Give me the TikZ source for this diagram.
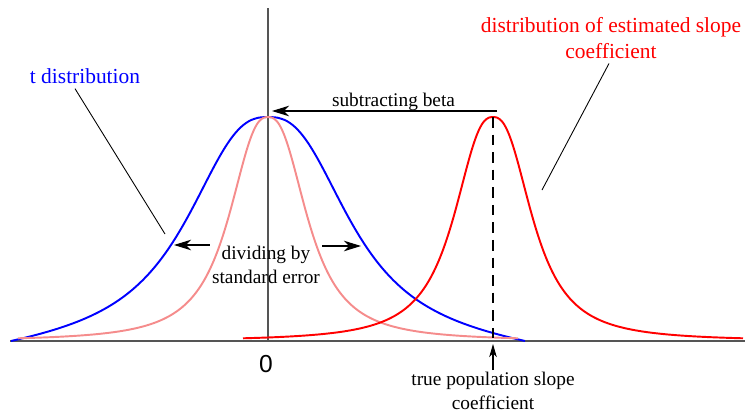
\documentclass[tikz,border=0pt]{standalone}
\usepackage{fontspec}
\setmainfont{Liberation Serif}
\newfontfamily\labelfont{Liberation Serif}
\newfontfamily\zerofont{Liberation Sans}
\usetikzlibrary{arrows.meta, calc}
\definecolor{tGrey}{HTML}{555555}
\definecolor{tPink}{HTML}{F58C8C}

\begin{document}
\begin{tikzpicture}[x=0.02cm, y=-0.02cm,
  >={Stealth[length=3.4mm, width=2.1mm, inset=1mm]},
  curve/.style={line width=1.1pt},
  lbl/.style={font=\labelfont\fontsize{11}{13.5}\selectfont, inner sep=1pt, align=center},
  big/.style={font=\labelfont\fontsize{12.2}{14.5}\selectfont, inner sep=1pt, align=center},
  leader/.style={black, line width=0.5pt}]
\useasboundingbox (0,0) rectangle (748,413);
% ---- axes
\draw[tGrey, line width=0.6pt] (10,341) -- (745,341);
\draw[tGrey, line width=0.6pt] (268,8) -- (268,341);
% ---- t distribution
\draw[blue, curve] plot[domain=-257:257, samples=200, smooth]
  ({268+\x}, {341-224*(1/(1+exp(2.6*ln(abs(\x)/88))) - 0.058*(\x/257)^2)});
% ---- estimate shifted to zero, and the estimate itself
\draw[tPink, curve] plot[domain=-250:250, samples=200, smooth]
  ({268+\x}, {341-224/(1+exp(2.5*ln(abs(\x)/43)))});
\draw[red, curve] plot[domain=-250:250, samples=200, smooth]
  ({493+\x}, {341-224/(1+exp(2.5*ln(abs(\x)/43)))});
\coordinate (peak) at (493,117);
\coordinate (beta) at (493,341);
\draw[dash pattern=on 6pt off 4pt, line width=0.6pt] (peak) -- (beta);
% ---- labels
\node[inner sep=1pt] (zero) at (266,364) {\zerofont\fontsize{14}{16}\selectfont 0};
\node[big, text=blue] (tlab) at (85,76) {t distribution};
\node[big, text=red] (rlab) at (611,38) {distribution of estimated slope\\coefficient};
\node[lbl] (div) at (266,265) {dividing by\\standard error};
\node[lbl] (truelab) at (493,391) {true population slope\\coefficient};
% ---- leaders and arrows
\coordinate (tpt) at (165,234);
\coordinate (rpt) at (542,190);
\draw[leader] ($(tlab.south)+(-10,3)$) -- (tpt);
\draw[leader] ($(rlab.south)+(-2,3)$) -- (rpt);
\coordinate (bfrom) at (497,111);
\coordinate (bto) at (272,111);
\draw[->, line width=0.6pt] (bfrom) -- node[lbl, above, pos=0.46, yshift=-1pt] (sublab) {subtracting beta} (bto);
\coordinate (dl) at (174,245);
\coordinate (dr) at (361,246);
\draw[->, line width=0.6pt] (div.west |- dl) -- (dl);
\draw[->, line width=0.6pt] (div.east |- dr) -- (dr);
\draw[-{Stealth[length=2.6mm, width=1.5mm, inset=0.7mm]}, line width=0.6pt] (truelab.north) -- ($(beta)+(0,3)$);
\end{tikzpicture}
\end{document}
